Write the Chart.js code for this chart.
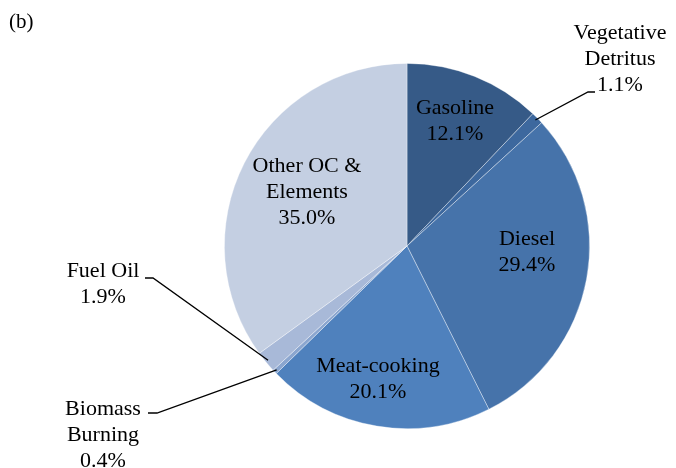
<!DOCTYPE html>
<html>
<head>
<meta charset="utf-8">
<script src="https://cdn.jsdelivr.net/npm/chart.js@4"></script>
<style>
  html, body { margin: 0; padding: 0; background: #fff; }
  #wrap { width: 676px; height: 468px; position: relative; }
</style>
</head>
<body>
<div id="wrap"><canvas id="pieChart" width="676" height="468"></canvas></div>
<script>
var categories = ["Gasoline", "Vegetative Detritus", "Diesel", "Meat-cooking", "Biomass Burning", "Fuel Oil", "Other OC & Elements"];
var shares = [12.1, 1.1, 29.4, 20.1, 0.4, 1.9, 35.0];
var sliceColors = ["#365a87", "#3d689e", "#4673aa", "#4f81bd", "#8ba6cf", "#a8b9d8", "#c4cfe2"];

// label text lines for each slice (percent added below)
var labelLines = [["Gasoline"], ["Vegetative", "Detritus"], ["Diesel"], ["Meat-cooking"], ["Biomass", "Burning"], ["Fuel Oil"], ["Other OC &", "Elements"]];
// label anchor (center of first line)
var labelPos = [
  { x: 455, y: 108 },
  { x: 620, y: 33 },
  { x: 527, y: 239 },
  { x: 378, y: 366 },
  { x: 103, y: 409 },
  { x: 103, y: 271 },
  { x: 307, y: 166 }
];
// leader lines: [elbow start x, elbow end x, y] for outside labels, null otherwise
var leaders = [null, [595, 588, 92], null, null, [148, 157, 413], [145, 153, 278], null];

var FONT = "'Liberation Serif', 'Times New Roman', serif";

var labelPlugin = {
  id: "sliceLabels",
  afterDraw: function (chart) {
    var ctx = chart.ctx;
    var meta = chart.getDatasetMeta(0);
    ctx.save();
    ctx.fillStyle = "#000";
    ctx.font = "21px " + FONT;
    ctx.textBaseline = "middle";
    ctx.textAlign = "left";
    ctx.fillText("(b)", 9, 22);

    ctx.font = "22px " + FONT;
    meta.data.forEach(function (arc, i) {
      var p = labelPos[i];
      var lines = labelLines[i].concat([shares[i].toFixed(1) + "%"]);
      ctx.textAlign = "center";
      lines.forEach(function (t, k) {
        ctx.fillText(t, p.x, p.y + k * 26);
      });
      var L = leaders[i];
      if (L) {
        var mid = (arc.startAngle + arc.endAngle) / 2;
        var r = arc.outerRadius * 0.985;
        var ex = arc.x + Math.cos(mid) * r;
        var ey = arc.y + Math.sin(mid) * r;
        ctx.beginPath();
        ctx.strokeStyle = "#000";
        ctx.lineWidth = 1.3;
        ctx.moveTo(L[0], L[2]);
        ctx.lineTo(L[1], L[2]);
        ctx.lineTo(ex, ey);
        ctx.stroke();
      }
    });
    ctx.restore();
  }
};

var ctx = document.getElementById("pieChart").getContext("2d");
var pieChart = new Chart(ctx, {
  type: "pie",
  data: {
    labels: categories,
    datasets: [
      {
        data: shares,
        backgroundColor: sliceColors,
        borderColor: "rgba(255,255,255,0.45)",
        borderWidth: 0.8
      }
    ]
  },
  options: {
    responsive: false,
    animation: false,
    layout: {
      padding: { left: 224, right: 86, top: 63, bottom: 39 }
    },
    plugins: {
      legend: { display: false },
      tooltip: { enabled: false }
    }
  },
  plugins: [labelPlugin]
});
</script>
</body>
</html>
